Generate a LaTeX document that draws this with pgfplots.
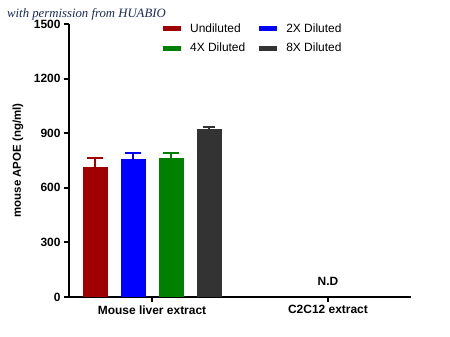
\documentclass[border=0pt]{standalone}
\usepackage{fontspec}
\setmainfont{Liberation Sans}
\newfontfamily\wmfont{Liberation Serif}
\usepackage{pgfplots}
\pgfplotsset{compat=1.18}
\definecolor{cRed}{HTML}{A00000}
\definecolor{cBlue}{HTML}{0000FF}
\definecolor{cGreen}{HTML}{008000}
\definecolor{cDark}{HTML}{333333}
\definecolor{wm}{HTML}{1A2A5A}
\begin{document}
\begin{tikzpicture}
\path[use as bounding box] (0,0) rectangle (450bp,337bp);
\node[anchor=west, inner sep=0pt, text=wm, font=\wmfont\itshape\fontsize{12.8}{14}\selectfont] at (7bp,323bp) {with permission from HUABIO};
\begin{axis}[
  at={(69bp,40bp)}, anchor=south west,
  scale only axis, width=342bp, height=273bp,
  xmin=-0.472, xmax=1.472, ymin=0, ymax=1500,
  axis lines=left,
  axis line style={-, line width=2bp},
  xtick={0,1}, xticklabels={Mouse liver extract, C2C12 extract},
  ytick={0,300,600,900,1200,1500},
  tick align=outside,
  major tick length=5bp,
  tick style={line width=2bp, black},
  ticklabel style={font=\bfseries\fontsize{12}{14}\selectfont},
  /pgf/number format/assume math mode=true,
  /pgf/number format/set thousands separator={},
  scaled y ticks=false,
  ylabel={mouse APOE (ng/ml)},
  every axis y label/.style={at={(axis description cs:-0.149,0.5)}, anchor=center, rotate=90,
    font=\bfseries\fontsize{11.5}{13}\selectfont},
  legend columns=2,
  legend style={at={(0.266,1.017)}, anchor=north west, draw=none, fill=none,
    font=\fontsize{12}{14}\selectfont, row sep=5.5bp,
    /tikz/every odd column/.append style={column sep=7bp},
    /tikz/every even column/.append style={column sep=12bp}},
  legend cell align=left,
  legend image code/.code={\fill[#1] (0bp,-2.5bp) rectangle (18bp,2.5bp);},
  clip=false,
]
\addplot[ybar, bar width=0.142, bar shift=0pt, fill=cRed, draw=none,
  error bars/.cd, y dir=plus, y explicit,
  error bar style={cRed, line width=1.5bp},
  error mark options={rotate=90, mark size=8bp, line width=1.5bp, cRed}]
  coordinates {(-0.324,714) +- (0,50)};
\addplot[ybar, bar width=0.142, bar shift=0pt, fill=cBlue, draw=none,
  error bars/.cd, y dir=plus, y explicit,
  error bar style={cBlue, line width=1.5bp},
  error mark options={rotate=90, mark size=8bp, line width=1.5bp, cBlue}]
  coordinates {(-0.108,760) +- (0,30)};
\addplot[ybar, bar width=0.142, bar shift=0pt, fill=cGreen, draw=none,
  error bars/.cd, y dir=plus, y explicit,
  error bar style={cGreen, line width=1.5bp},
  error mark options={rotate=90, mark size=8bp, line width=1.5bp, cGreen}]
  coordinates {(0.108,765) +- (0,25)};
\addplot[ybar, bar width=0.142, bar shift=0pt, fill=cDark, draw=none,
  error bars/.cd, y dir=plus, y explicit,
  error bar style={cDark, line width=1.5bp},
  error mark options={rotate=90, mark size=6bp, line width=1.5bp, cDark}]
  coordinates {(0.324,921) +- (0,14)};
\legend{Undiluted, 2X Diluted, 4X Diluted, 8X Diluted}
\node[font=\bfseries\fontsize{12}{14}\selectfont] at (axis cs:1,88) {N.D};
\end{axis}
\end{tikzpicture}
\end{document}
